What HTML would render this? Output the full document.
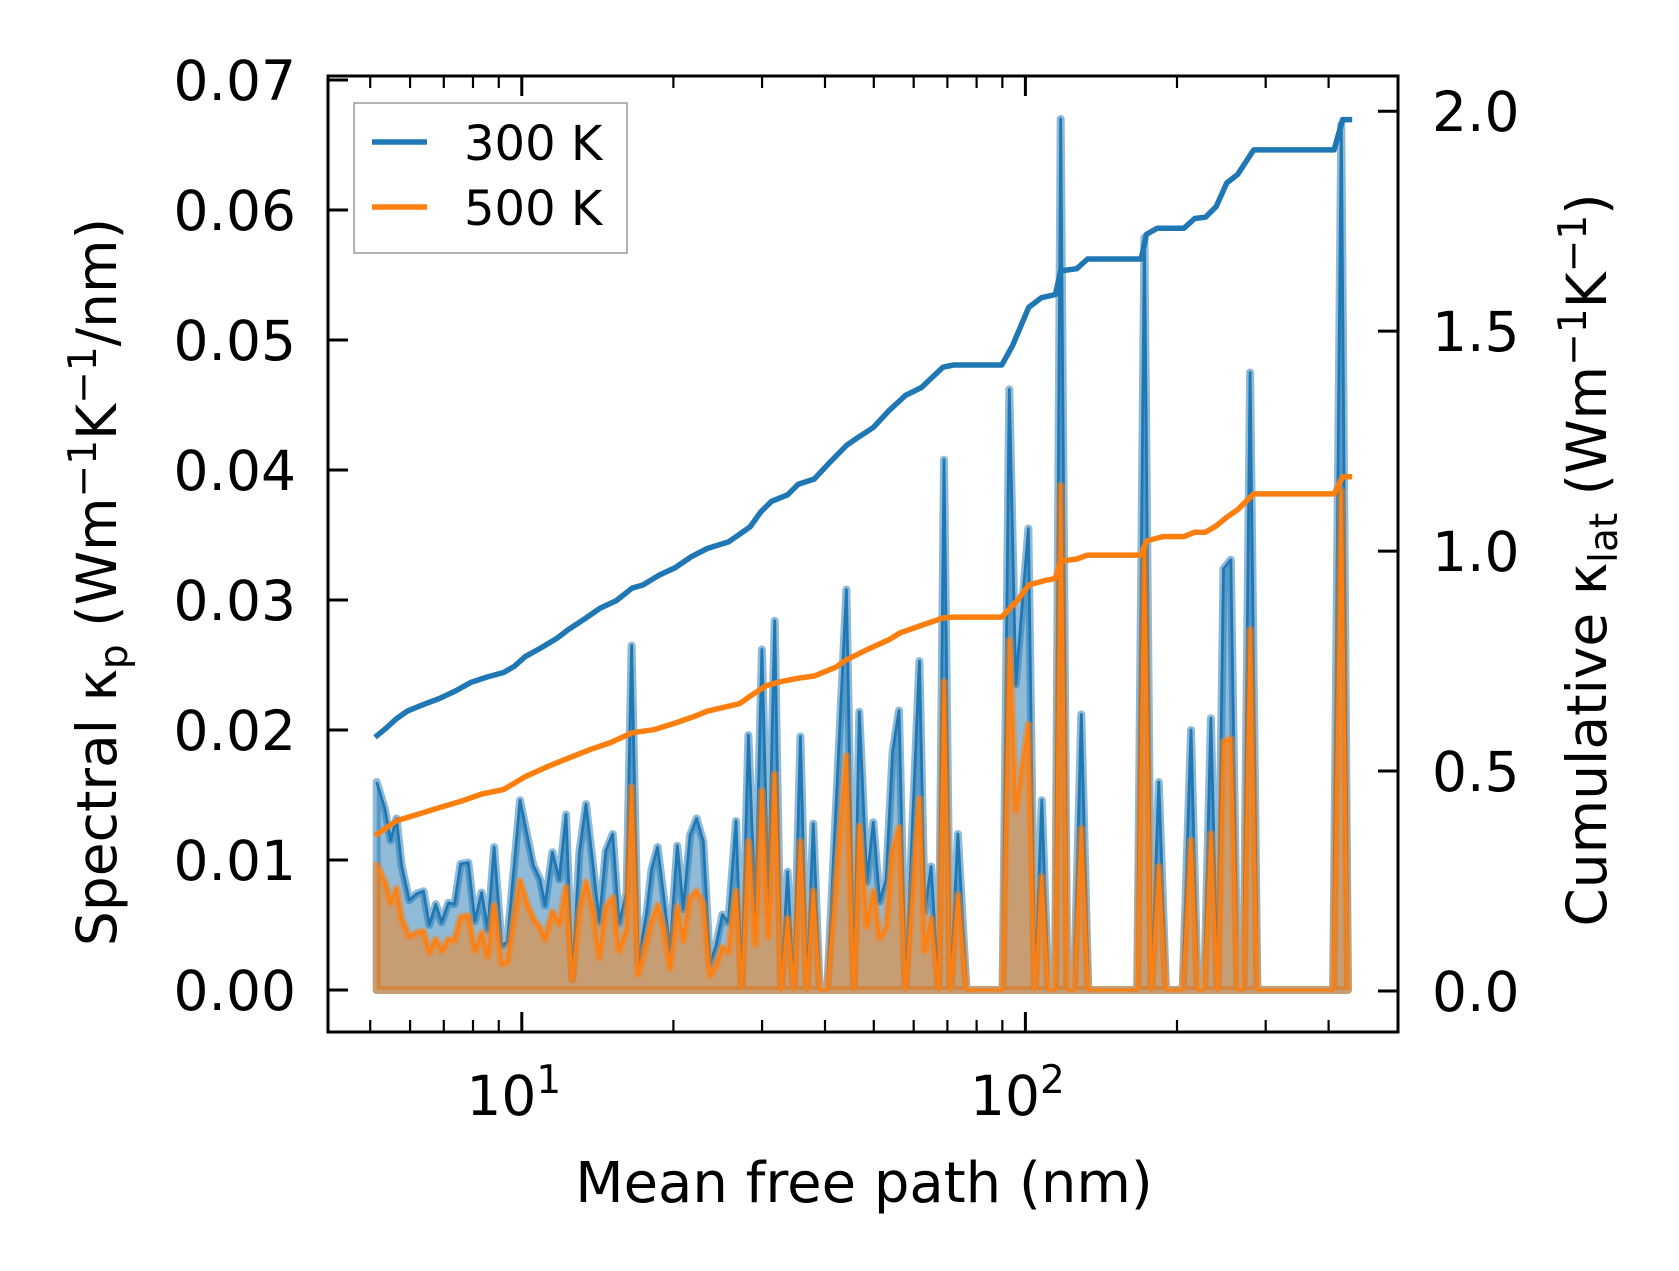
<!DOCTYPE html>
<html><head><meta charset="utf-8"><style>
html,body{margin:0;padding:0;background:#fff;}
svg{display:block;font-family:"DejaVu Sans","Liberation Sans",sans-serif;}
</style></head><body>
<svg id="chart" width="1679" height="1271" viewBox="0 0 1679 1271" xmlns="http://www.w3.org/2000/svg">
<g id="plot"></g>
<g id="axes"></g>
</svg>
<script>
// ---- data ----
const mfp = [5.15,5.35,5.49,5.64,5.77,5.98,6.18,6.38,6.55,6.75,6.93,7.15,7.35,7.56,7.83,8.07,8.32,8.56,8.81,9.12,9.36,9.92,10.22,10.54,10.87,11.12,11.50,11.87,12.24,12.60,13.01,13.41,13.83,14.25,14.68,15.15,15.60,16.15,16.52,17.03,17.70,18.10,18.61,19.16,19.69,20.36,20.93,21.58,22.24,22.93,23.64,24.30,25.02,25.71,26.63,27.33,28.18,
29.1,29.97,30.87,31.78,32.73,33.71,34.69,35.74,36.81,37.91,39.04,40.41,44.12,45.66,46.80,48.43,49.88,51.36,52.90,54.49,56.11,57.79,61.58,63.10,64.99,67.25,68.92,70.97,73.45,76.39,89.35,
90.1,92.9,95.7,101.4,104.4,107.8,111.1,114.5,117.5,121.1,124.9,129.1,133.3,166.7,172.3,177.9,184.0,190.2,205.2,213.2,219.8,226.5,233.5,240.7,247.4,255.8,263.7,271.0,279.4,288.9,408.3,424.0,437.1];
const k300 = [0.0160,0.0139,0.0115,0.0132,0.0096,0.0069,0.0074,0.0076,0.0050,0.0066,0.0052,0.0067,0.0066,0.0097,0.0098,0.0053,0.0075,0.0046,0.0110,0.0034,0.0037,0.0146,0.0121,0.0096,0.0085,0.0065,0.0106,0.0085,0.0135,0.0008,0.0106,0.0143,0.0098,0.0052,0.0107,0.0120,0.0051,0.0075,0.0265,0.0021,0.0060,0.0093,0.0110,0.0070,0.0030,0.0111,0.0062,0.0119,0.0132,0.0114,0.0020,0.0034,0.0058,0.0052,0.0130,0.0003,0.0196,
0.0059,0.0262,0.0068,0.0284,0,0.0091,0,0.0195,0,0.0128,0,0,0.0308,0,0.0214,0.0083,0.0129,0.0068,0.0085,0.0183,0.0215,0,0.0253,0.0060,0.0095,0,0.0408,0,0.0120,0,0,
0,0.0462,0.0235,0.0355,0,0.0146,0,0,0.0670,0,0,0.0212,0,0,0.0579,0,0.0160,0,0,0.0200,0,0,0.0209,0,0.0324,0.0331,0,0,0.0475,0,0,0.0666,0];
const k500 = [0.0096,0.0083,0.0067,0.0078,0.0055,0.0041,0.0044,0.0045,0.0029,0.0039,0.0030,0.0039,0.0038,0.0056,0.0057,0.0030,0.0044,0.0026,0.0065,0.0020,0.0022,0.0084,0.0067,0.0055,0.0048,0.0039,0.0060,0.0051,0.0079,0.0008,0.0060,0.0083,0.0062,0.0025,0.0064,0.0071,0.0030,0.0047,0.0156,0.0012,0.0037,0.0053,0.0065,0.0047,0.0017,0.0064,0.0038,0.0071,0.0076,0.0066,0.0011,0.0019,0.0033,0.0029,0.0076,0.0002,0.0114,
0.0035,0.0153,0.0041,0.0166,0,0.0055,0,0.0114,0,0.0076,0,0,0.0180,0,0.0126,0.0049,0.0076,0.0040,0.0048,0.0106,0.0125,0,0.0147,0.0030,0.0055,0,0.0237,0,0.0073,0,0,
0,0.0269,0.0138,0.0204,0,0.0087,0,0,0.0388,0,0,0.0124,0,0,0.0340,0,0.0095,0,0,0.0115,0,0,0.0120,0,0.0191,0.0193,0,0,0.0277,0,0,0.0384,0];
const cumX300 = [5.11,5.37,5.64,5.92,6.37,6.86,7.38,7.94,8.55,9.20,9.66,10.15,10.92,11.75,12.35,13.29,14.30,15.39,16.56,17.40,18.72,20.15,21.69,23.34,25.74,27.04,28.40,29.83,31.31,33.71,35.40,38.09,41.00,44.12,46.34,49.88,53.68,57.79,62.19,68.57,72.01,89.79,94.29,101.5,107.6,114.7,117.5,126.5,132.9,169.8,173.9,182.7,206.5,216.9,227.8,239.2,251.2,263.8,284.0,410.1,426.5,445.6];
const cum300 = [0.577,0.597,0.619,0.636,0.651,0.665,0.682,0.702,0.714,0.724,0.738,0.760,0.780,0.802,0.821,0.845,0.870,0.887,0.916,0.923,0.945,0.962,0.987,1.006,1.021,1.038,1.055,1.089,1.113,1.128,1.152,1.164,1.203,1.240,1.257,1.281,1.320,1.354,1.372,1.418,1.423,1.423,1.467,1.554,1.576,1.583,1.637,1.642,1.664,1.664,1.720,1.734,1.734,1.756,1.759,1.783,1.837,1.856,1.912,1.912,1.981,1.981];
const cumX500 = [5.11,5.64,6.22,6.86,7.56,8.34,9.20,10.15,11.19,12.35,13.61,15.02,16.56,18.27,20.15,22.23,23.34,27.04,28.40,30.55,32.89,35.40,38.09,42.02,44.12,48.67,53.68,56.38,62.19,68.57,72.01,89.79,96.63,101.5,109.2,114.7,117.5,126.5,132.9,169.8,173.9,187.3,206.5,216.9,227.8,239.2,251.2,263.8,284.0,410.1,426.5,445.6];
const cum500 = [0.353,0.387,0.402,0.417,0.431,0.448,0.458,0.487,0.509,0.529,0.548,0.565,0.587,0.594,0.609,0.626,0.636,0.653,0.670,0.694,0.704,0.711,0.716,0.736,0.753,0.777,0.799,0.814,0.831,0.848,0.850,0.850,0.889,0.923,0.933,0.938,0.977,0.982,0.991,0.991,1.023,1.033,1.033,1.043,1.043,1.057,1.077,1.094,1.130,1.130,1.169,1.169];
const leftTicks = [0,0.01,0.02,0.03,0.04,0.05,0.06,0.07];
const leftTickLabels = ["0.00","0.01","0.02","0.03","0.04","0.05","0.06","0.07"];
const rightTicks = [0,0.5,1.0,1.5,2.0];
const rightTickLabels = ["0.0","0.5","1.0","1.5","2.0"];
const xMajor = [10,100];
const xMinor = [5,6,7,8,9,20,30,40,50,60,70,80,90,200,300,400];

// ---- scales ----
const L=328,R=1398,T=76,B=1032;
const X = v => 521.8 + 503.6*(Math.log10(v)-1);
const YL = v => 990 - v*13000;
const YR = v => 991 - v*439.9;
const NS="http://www.w3.org/2000/svg";
const plot=document.getElementById('plot'), axes=document.getElementById('axes');
function mk(tag, attrs, parent){const e=document.createElementNS(NS,tag);for(const k in attrs)e.setAttribute(k,attrs[k]);parent.appendChild(e);return e;}

function spectral(vals, color, name){
  let pts = mfp.map((m,i)=>X(m).toFixed(1)+','+YL(vals[i]).toFixed(1));
  const poly = pts.concat([X(mfp[mfp.length-1]).toFixed(1)+','+YL(0), X(mfp[0]).toFixed(1)+','+YL(0)]).join(' ');
  const f = mk('polygon',{points:poly,fill:color,'fill-opacity':0.5,stroke:color,'stroke-opacity':0.5,'stroke-width':8,'stroke-linejoin':'round'},plot);
  
  
  const l = mk('polyline',{points:pts.join(' '),fill:'none',stroke:color,'stroke-width':2.8,'stroke-linejoin':'round'},plot);
  
  
}
spectral(k300,'#1f77b4','spectral-300k');
spectral(k500,'#ff7f0e','spectral-500k');

function cum(xs, vals, color, name){
  const pts = xs.map((m,i)=>X(m).toFixed(1)+','+YR(vals[i]).toFixed(1)).join(' ');
  const l = mk('polyline',{points:pts,fill:'none',stroke:color,'stroke-width':5.5,'stroke-linejoin':'round'},plot);
  
  
}
cum(cumX300,cum300,'#1f77b4','cumulative-300k');
cum(cumX500,cum500,'#ff7f0e','cumulative-500k');

// ---- axes ----
const frame = mk('rect',{x:L,y:T,width:R-L,height:B-T,fill:'none',stroke:'#000','stroke-width':3},axes);


leftTicks.forEach((v,i)=>{
  const y=YL(v);
  const t=mk('line',{x1:L,x2:L+20,y1:y,y2:y,stroke:'#000','stroke-width':3},axes);
  
  
  const tx=mk('text',{x:296,y:y+20,'text-anchor':'end','font-size':55,fill:'#000'},axes);
  tx.textContent=leftTickLabels[i];
  
  
});
rightTicks.forEach((v,i)=>{
  const y=YR(v);
  const t=mk('line',{x1:R-20,x2:R,y1:y,y2:y,stroke:'#000','stroke-width':3},axes);
  
  
  const tx=mk('text',{x:1432,y:y+20,'text-anchor':'start','font-size':55,fill:'#000'},axes);
  tx.textContent=rightTickLabels[i];
  
  
});
xMajor.forEach((v,i)=>{
  const x=X(v);
  [[B,B-20],[T,T+20]].forEach(p=>{
    const t=mk('line',{x1:x,x2:x,y1:p[0],y2:p[1],stroke:'#000','stroke-width':3},axes);
    
    
  });
  const tx=mk('text',{x:x-8,y:1115,'text-anchor':'middle','font-size':55,fill:'#000'},axes);
  
  
  const exp = Math.round(Math.log10(v));
  tx.appendChild(document.createTextNode('10'));
  const s=mk('tspan',{dy:-22,'font-size':39},tx); s.textContent=String(exp);
});
xMinor.forEach(v=>{
  const x=X(v);
  [[B,B-12],[T,T+12]].forEach(p=>{
    const t=mk('line',{x1:x,x2:x,y1:p[0],y2:p[1],stroke:'#000','stroke-width':2.2},axes);
    
    
  });
});
</script>
<svg style="position:absolute;left:0;top:0" width="1679" height="1271" viewBox="0 0 1679 1271" xmlns="http://www.w3.org/2000/svg" font-family="DejaVu Sans, Liberation Sans, sans-serif">
  <text x="864" y="1202" text-anchor="middle" font-size="56">Mean free path (nm)</text>
  <text transform="translate(116,582) rotate(-90)" text-anchor="middle" font-size="55">Spectral κ<tspan font-size="39" dy="11">p</tspan><tspan dy="-11"> (Wm</tspan><tspan font-size="39" dy="-20">−1</tspan><tspan dy="20">K</tspan><tspan font-size="39" dy="-20">−1</tspan><tspan dy="20">/nm)</tspan></text>
  <text transform="translate(1606,560) rotate(-90)" text-anchor="middle" font-size="55">Cumulative κ<tspan font-size="39" dy="11">lat</tspan><tspan dy="-11"> (Wm</tspan><tspan font-size="39" dy="-20">−1</tspan><tspan dy="20">K</tspan><tspan font-size="39" dy="-20">−1</tspan><tspan dy="20">)</tspan></text>
  <g>
    <rect x="354" y="103" width="273" height="150" fill="#fff" fill-opacity="0.85" stroke="#999" stroke-width="1.5"/>
    <line x1="372" x2="427" y1="142" y2="142" stroke="#1f77b4" stroke-width="5.5"/>
    <text x="464" y="160" font-size="48">300 K</text>
    <line x1="372" x2="427" y1="207" y2="207" stroke="#ff7f0e" stroke-width="5.5"/>
    <text x="464" y="225" font-size="48">500 K</text>
  </g>
</svg>
</body></html>
